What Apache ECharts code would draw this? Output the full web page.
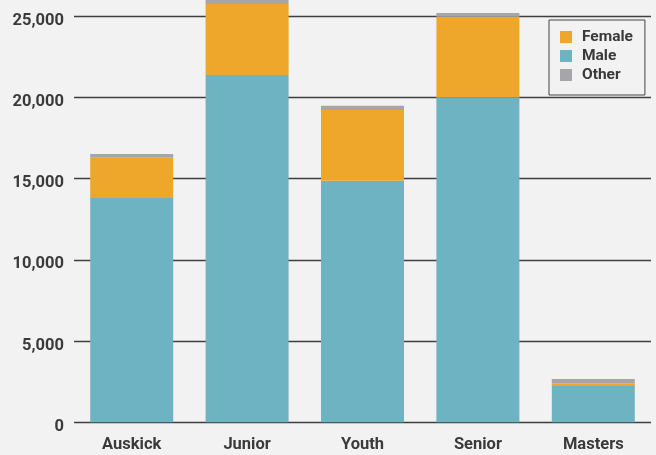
<!DOCTYPE html>
<html>
<head>
<meta charset="utf-8">
<script src="https://cdn.jsdelivr.net/npm/echarts@6/dist/echarts.min.js"></script>
<style>
html,body{margin:0;padding:0;background:#f2f2f2;}
#c{width:656px;height:455px;}
</style>
</head>
<body>
<div id="c"></div>
<script>
const categories = ['Auskick', 'Junior', 'Youth', 'Senior', 'Masters'];
const male = [13800, 21370, 14870, 20000, 2230];
const female = [2480, 4370, 4350, 4960, 170];
const other = [230, 260, 250, 230, 260];
const yTicks = [0, 5000, 10000, 15000, 20000, 25000];

const chart = echarts.init(document.getElementById('c'));
const font = {fontFamily: 'Roboto', fontWeight: 'bold', fontSize: 16.5, color: '#3a3a3a'};
const barCommon = {type: 'bar', stack: 'total', barWidth: 83, clip: false};
chart.setOption({
  backgroundColor: '#f2f2f2',
  animation: false,
  grid: {left: 74, right: 5, top: 16, bottom: 32.7, containLabel: false},
  legend: {
    data: ['Female', 'Male', 'Other'],
    orient: 'vertical',
    left: 549, top: 20,
    padding: [9, 12, 12, 11],
    itemWidth: 12, itemHeight: 12, itemGap: 3,
    icon: 'rect',
    borderColor: '#444', borderWidth: 1,
    textStyle: Object.assign({}, font, {fontSize: 15.5, lineHeight: 15.5, padding: [0, 0, 0, 5]})
  },
  xAxis: {
    type: 'category',
    data: categories,
    axisLine: {show: false},
    axisTick: {show: false},
    axisLabel: Object.assign({margin: 14}, font)
  },
  yAxis: {
    type: 'value',
    min: 0, max: 25000, interval: 5000,
    axisLine: {show: false},
    axisTick: {show: false},
    axisLabel: Object.assign({
      margin: 10,
      formatter: v => '{a|' + v.toLocaleString('en-US') + '}',
      rich: {a: Object.assign({}, font, {padding: [9, 0, 0, 0]})}
    }, font),
    splitLine: {lineStyle: {color: '#3f3f3f', width: 1.3}}
  },
  series: [
    Object.assign({name: 'Male', data: male, itemStyle: {color: '#6db3c2'}}, barCommon),
    Object.assign({name: 'Female', data: female, itemStyle: {color: '#eea72b'}}, barCommon),
    Object.assign({name: 'Other', data: other, itemStyle: {color: '#a6a6a8'}}, barCommon)
  ]
});
</script>
</body>
</html>
